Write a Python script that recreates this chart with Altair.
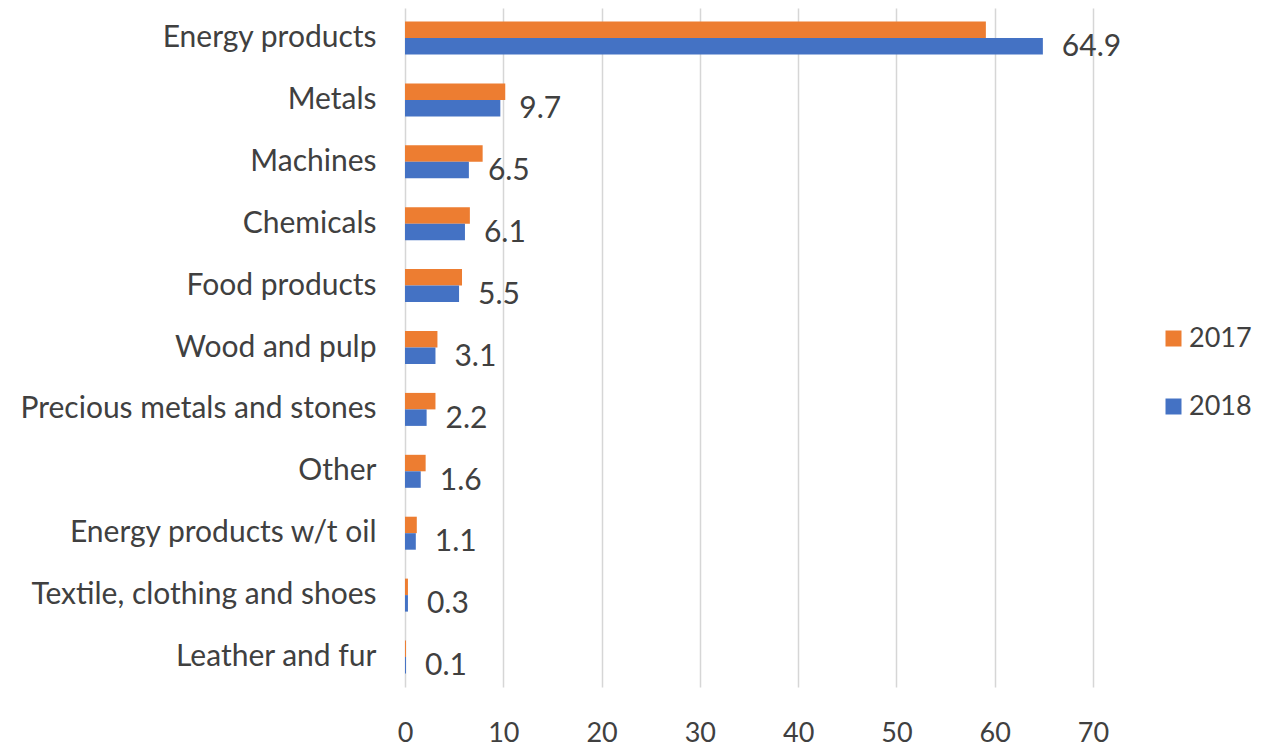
import altair as alt
import pandas as pd

categories = [
    "Energy products",
    "Metals",
    "Machines",
    "Chemicals",
    "Food products",
    "Wood and pulp",
    "Precious metals and stones",
    "Other",
    "Energy products w/t oil",
    "Textile, clothing and shoes",
    "Leather and fur",
]
years = ["2017", "2018"]
values_2017 = [59.1, 10.2, 7.9, 6.6, 5.8, 3.3, 3.1, 2.1, 1.2, 0.3, 0.1]
values_2018 = [64.9, 9.7, 6.5, 6.1, 5.5, 3.1, 2.2, 1.6, 1.1, 0.3, 0.1]
x_ticks = [0, 10, 20, 30, 40, 50, 60, 70]
colors = ["#ED7D31", "#4472C4"]

rows = []
for c, a, b in zip(categories, values_2017, values_2018):
    rows.append({"category": c, "year": "2017", "value": a})
    rows.append({"category": c, "year": "2018", "value": b})
df = pd.DataFrame(rows)

FONT = "Lato"
TXT = "#404040"

x_enc = alt.X(
    "value:Q",
    scale=alt.Scale(domain=[0, 70], nice=False),
    axis=alt.Axis(
        values=x_ticks, grid=True, gridColor="#d6d6d6", gridWidth=1.5,
        domain=False, ticks=False, labelFontSize=27, labelFont=FONT,
        labelColor=TXT, labelPadding=33, labelFlush=False, title=None,
    ),
)
y_enc = alt.Y(
    "category:N",
    sort=categories,
    scale=alt.Scale(paddingInner=0.467, paddingOuter=0.218),
    axis=alt.Axis(
        title=None, ticks=False, domain=False, labelFontSize=30,
        labelFont=FONT, labelColor=TXT, labelPadding=29, labelLimit=0,
    ),
)
yoff = alt.YOffset("year:N", sort=years, scale=alt.Scale(paddingInner=0, paddingOuter=0))

bars = alt.Chart(df).mark_bar().encode(
    x=x_enc,
    y=y_enc,
    yOffset=yoff,
    color=alt.Color(
        "year:N",
        scale=alt.Scale(domain=years, range=colors),
        legend=alt.Legend(
            title=None, orient="none", legendX=755, legendY=317,
            symbolType="square", symbolSize=256, symbolStrokeWidth=0,
            labelFontSize=27, labelFont=FONT, labelColor=TXT,
            rowPadding=40, labelOffset=2, padding=0,
        ),
    ),
)

labels = alt.Chart(df).transform_filter(alt.datum.year == "2018").mark_text(
    align="left", baseline="middle", dx=19, dy=1, fontSize=30, font=FONT, color=TXT
).encode(
    x=alt.X("value:Q"),
    y=alt.Y("category:N", sort=categories),
    yOffset=alt.YOffset("year:N", sort=years),
    text=alt.Text("value:Q", format=".1f"),
)

chart = (
    alt.layer(bars, labels)
    .properties(
        width=688,
        height=679,
        autosize=alt.AutoSizeParams(type="none"),
        padding={"left": 397, "top": 0, "right": 161, "bottom": 61},
        background="white",
    )
    .configure_view(stroke=None)
)

chart.save("out.html", embed_options={"renderer": "svg", "actions": False})
